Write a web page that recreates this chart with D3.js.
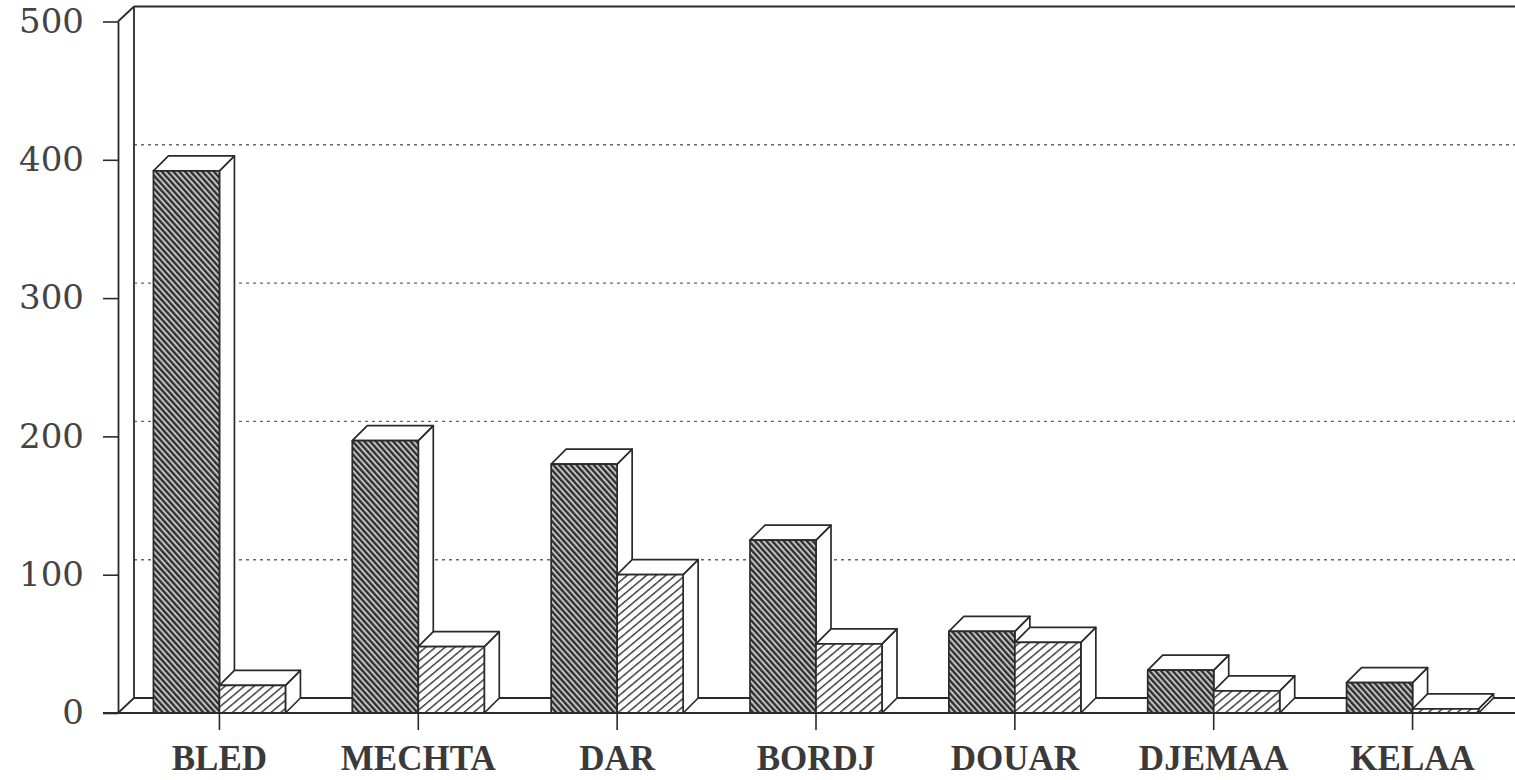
<!DOCTYPE html>
<html>
<head>
<meta charset="utf-8">
<script src="https://cdn.jsdelivr.net/npm/d3@7"></script>
<style>
  html, body { margin: 0; padding: 0; background: #ffffff; }
  svg { display: block; }
</style>
</head>
<body>
<svg id="chart" width="1515" height="780"></svg>
<script>
// Settlement types and their two counts
const categories = ["BLED", "MECHTA", "DAR", "BORDJ", "DOUAR", "DJEMAA", "KELAA"];
const seriesDark = [392, 197, 180, 125, 59, 31, 22];
const seriesLight = [20, 48, 100, 50, 51, 16, 3];
const yTicks = [0, 100, 200, 300, 400, 500];

const W = 1515, H = 780;
const ink = "#2a2a2a";
const svg = d3.select("#chart");

// 3D box geometry
const axisX = 118;              // front left edge
const wallDX = 16, wallDY = 15; // depth of the back wall
const barDepth = 15;
const barW = 66;

const x = d3.scaleBand().domain(categories).range([120, 1512]);
const y = d3.scaleLinear().domain([0, 500]).range([713, 21.5]);

// hatch fills
const defs = svg.append("defs");
const pDark = defs.append("pattern")
  .attr("id", "hatchDark").attr("patternUnits", "userSpaceOnUse")
  .attr("width", 4.3).attr("height", 12)
  .attr("patternTransform", "rotate(-42)");
pDark.append("rect").attr("width", 4.3).attr("height", 12).attr("fill", "#c4c4c4");
pDark.append("rect").attr("width", 2.3).attr("height", 12).attr("fill", "#2e2e2e");

const pLight = defs.append("pattern")
  .attr("id", "hatchLight").attr("patternUnits", "userSpaceOnUse")
  .attr("width", 6.2).attr("height", 12)
  .attr("patternTransform", "rotate(50)");
pLight.append("rect").attr("width", 6.2).attr("height", 12).attr("fill", "#ffffff");
pLight.append("rect").attr("width", 1.4).attr("height", 12).attr("fill", "#333333");

const frame = svg.append("g").attr("stroke", ink).attr("stroke-width", 1.8).attr("fill", "none");

// back-wall grid lines
frame.selectAll("line.grid")
  .data(yTicks.filter(v => v > 0 && v < 500))
  .join("line")
  .attr("class", "grid")
  .attr("x1", axisX + wallDX).attr("x2", W)
  .attr("y1", d => y(d) - wallDY).attr("y2", d => y(d) - wallDY)
  .attr("stroke", "#666").attr("stroke-width", 1.4)
  .attr("stroke-dasharray", "3,4");

// back wall top edge and vertical edge
frame.append("line")
  .attr("x1", axisX + wallDX).attr("x2", W)
  .attr("y1", y(500) - wallDY).attr("y2", y(500) - wallDY);
frame.append("line")
  .attr("x1", axisX + wallDX).attr("x2", axisX + wallDX)
  .attr("y1", y(500) - wallDY).attr("y2", y(0) - wallDY);
// left wall diagonals
frame.append("line")
  .attr("x1", axisX).attr("y1", y(500))
  .attr("x2", axisX + wallDX).attr("y2", y(500) - wallDY);
frame.append("line")
  .attr("x1", axisX).attr("y1", y(0))
  .attr("x2", axisX + wallDX).attr("y2", y(0) - wallDY);
// floor back edge
frame.append("line")
  .attr("x1", axisX + wallDX).attr("x2", W)
  .attr("y1", y(0) - wallDY).attr("y2", y(0) - wallDY);

// bars
const bars = svg.append("g").attr("stroke", ink).attr("stroke-width", 1.7).attr("stroke-linejoin", "round");
categories.forEach((c, i) => {
  const xc = x(c) + x.bandwidth() / 2;
  [[seriesDark[i], xc - barW, "url(#hatchDark)"], [seriesLight[i], xc, "url(#hatchLight)"]]
    .forEach(([v, x0, fill]) => {
      const yt = y(v), yb = y(0), d = barDepth;
      const g = bars.append("g");
      g.append("path")
        .attr("d", `M${x0 + barW},${yt} L${x0 + barW + d},${yt - d} L${x0 + barW + d},${yb - d} L${x0 + barW},${yb} Z`)
        .attr("fill", "#ffffff");
      g.append("path")
        .attr("d", `M${x0},${yt} L${x0 + d},${yt - d} L${x0 + barW + d},${yt - d} L${x0 + barW},${yt} Z`)
        .attr("fill", "#ffffff");
      g.append("rect")
        .attr("x", x0).attr("y", yt)
        .attr("width", barW).attr("height", Math.max(0, yb - yt))
        .attr("fill", fill);
    });
});

// floor front edge
svg.append("line")
  .attr("x1", 103).attr("x2", W)
  .attr("y1", y(0)).attr("y2", y(0))
  .attr("stroke", ink).attr("stroke-width", 1.8);

// value axis on the front left edge
const yAxis = svg.append("g")
  .attr("transform", `translate(${axisX},0)`)
  .call(d3.axisLeft(y).tickValues(yTicks).tickSize(15).tickSizeOuter(0).tickPadding(19).tickFormat(d3.format("d")));
yAxis.select(".domain").attr("stroke", ink).attr("stroke-width", 1.8);
yAxis.selectAll(".tick line").attr("stroke", ink).attr("stroke-width", 1.6);
yAxis.selectAll(".tick text")
  .attr("fill", "#444")
  .style("font-family", "'DejaVu Serif', serif")
  .style("font-size", "34px");

// category axis
const xAxis = svg.append("g")
  .attr("transform", `translate(0,${y(0)})`)
  .call(d3.axisBottom(x).tickSize(17).tickPadding(15));
xAxis.select(".domain").remove();
xAxis.selectAll(".tick line").attr("stroke", ink).attr("stroke-width", 1.6);
xAxis.selectAll(".tick text")
  .attr("fill", "#3a3a3a")
  .style("font-family", "'Liberation Serif', serif")
  .style("font-weight", "bold")
  .style("font-size", "35px");
</script>
</body>
</html>
